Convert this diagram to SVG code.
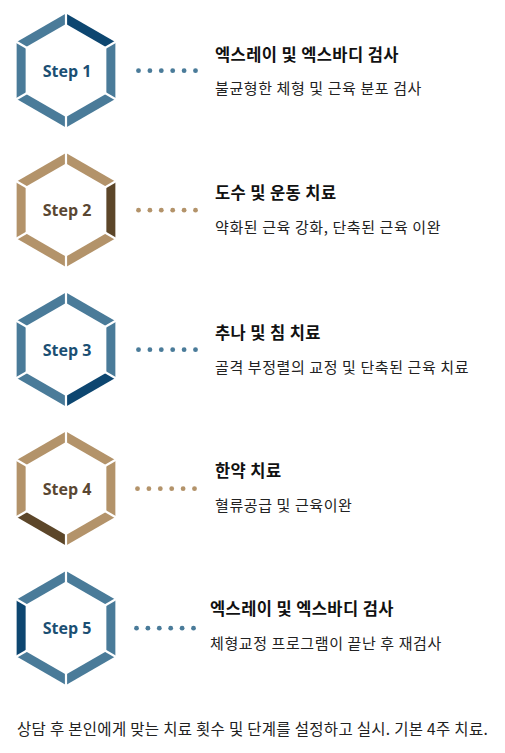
<svg xmlns="http://www.w3.org/2000/svg" xmlns:xlink="http://www.w3.org/1999/xlink" width="505" height="753" viewBox="0 0 505 753">
<style>
.b{fill:#4a7b99}.bd{fill:#0d4670}.t{fill:#b3936a}.td{fill:#5c4629}
.gap{stroke:#fff;stroke-width:2.2}
.stepb{font-family:"Open Sans","Noto Sans",sans-serif;font-weight:bold;font-size:16px;fill:#1b4f73;text-anchor:middle}
.stept{font-family:"Open Sans","Noto Sans",sans-serif;font-weight:bold;font-size:16px;fill:#5a4732;text-anchor:middle}
.title{font-family:"Noto Sans CJK KR",sans-serif;font-weight:bold;font-size:16.5px;letter-spacing:0.4px;fill:#111}
.sub{font-family:"Noto Sans CJK KR",sans-serif;font-size:15px;letter-spacing:0.6px;fill:#222}
.note{font-family:"Noto Sans CJK KR",sans-serif;font-size:15.5px;letter-spacing:0.3px;fill:#222}
.dotb{fill:#4a7b99}.dott{fill:#b3936a}
</style>
<defs>
<polygon id="s0" points="0,-57 49.36,-28.5 40.36,-23.3 0,-46.6"/>
<polygon id="s1" points="49.36,-28.5 49.36,28.5 40.36,23.3 40.36,-23.3"/>
<polygon id="s2" points="49.36,28.5 0,57 0,46.6 40.36,23.3"/>
<polygon id="s3" points="0,57 -49.36,28.5 -40.36,23.3 0,46.6"/>
<polygon id="s4" points="-49.36,28.5 -49.36,-28.5 -40.36,-23.3 -40.36,23.3"/>
<polygon id="s5" points="-49.36,-28.5 0,-57 0,-46.6 -40.36,-23.3"/>
<g id="gaps" class="gap">
<line x1="0" y1="-59" x2="0" y2="-44"/>
<line x1="51" y1="-29.5" x2="38.5" y2="-22.2"/>
<line x1="51" y1="29.5" x2="38.5" y2="22.2"/>
<line x1="0" y1="59" x2="0" y2="44"/>
<line x1="-51" y1="29.5" x2="-38.5" y2="22.2"/>
<line x1="-51" y1="-29.5" x2="-38.5" y2="-22.2"/>
</g>
<g id="dots">
<circle cx="0" cy="0" r="2.4"/><circle cx="11.4" cy="0" r="2.4"/><circle cx="22.8" cy="0" r="2.4"/>
<circle cx="34.2" cy="0" r="2.4"/><circle cx="45.6" cy="0" r="2.4"/><circle cx="57" cy="0" r="2.4"/>
</g>
</defs>

<g id="connectors">
<use xlink:href="#dots" class="dotb" x="138.5" y="70.7"/>
<use xlink:href="#dots" class="dott" x="138.5" y="210.2"/>
<use xlink:href="#dots" class="dotb" x="138.5" y="349.7"/>
<use xlink:href="#dots" class="dott" x="137.5" y="488.7"/>
<use xlink:href="#dots" class="dotb" x="136.5" y="628.2"/>
</g>

<g id="step1" transform="translate(66,70.5)">
<use xlink:href="#s0" class="bd"/><use xlink:href="#s1" class="b"/><use xlink:href="#s2" class="b"/>
<use xlink:href="#s3" class="b"/><use xlink:href="#s4" class="b"/><use xlink:href="#s5" class="b"/>
<use xlink:href="#gaps"/>
<text class="stepb" x="1" y="6">Step 1</text>
</g>
<g id="step2" transform="translate(66,210)">
<use xlink:href="#s0" class="t"/><use xlink:href="#s1" class="td"/><use xlink:href="#s2" class="t"/>
<use xlink:href="#s3" class="t"/><use xlink:href="#s4" class="t"/><use xlink:href="#s5" class="t"/>
<use xlink:href="#gaps"/>
<text class="stept" x="1" y="6">Step 2</text>
</g>
<g id="step3" transform="translate(66,349.5)">
<use xlink:href="#s0" class="b"/><use xlink:href="#s1" class="b"/><use xlink:href="#s2" class="bd"/>
<use xlink:href="#s3" class="b"/><use xlink:href="#s4" class="b"/><use xlink:href="#s5" class="b"/>
<use xlink:href="#gaps"/>
<text class="stepb" x="1" y="6">Step 3</text>
</g>
<g id="step4" transform="translate(66,488.5)">
<use xlink:href="#s0" class="t"/><use xlink:href="#s1" class="t"/><use xlink:href="#s2" class="t"/>
<use xlink:href="#s3" class="td"/><use xlink:href="#s4" class="t"/><use xlink:href="#s5" class="t"/>
<use xlink:href="#gaps"/>
<text class="stept" x="1" y="6">Step 4</text>
</g>
<g id="step5" transform="translate(66,628)">
<use xlink:href="#s0" class="b"/><use xlink:href="#s1" class="b"/><use xlink:href="#s2" class="b"/>
<use xlink:href="#s3" class="b"/><use xlink:href="#s4" class="bd"/><use xlink:href="#s5" class="b"/>
<use xlink:href="#gaps"/>
<text class="stepb" x="1" y="6">Step 5</text>
</g>

<g id="label1">
<text class="title" x="215" y="61">엑스레이 및 엑스바디 검사</text>
<text class="sub" x="215" y="94">불균형한 체형 및 근육 분포 검사</text>
</g>
<g id="label2">
<text class="title" x="215" y="199">도수 및 운동 치료</text>
<text class="sub" x="215" y="233">약화된 근육 강화, 단축된 근육 이완</text>
</g>
<g id="label3">
<text class="title" x="215" y="339">추나 및 침 치료</text>
<text class="sub" x="215" y="373">골격 부정렬의 교정 및 단축된 근육 치료</text>
</g>
<g id="label4">
<text class="title" x="215" y="477">한약 치료</text>
<text class="sub" x="215" y="511">혈류공급 및 근육이완</text>
</g>
<g id="label5">
<text class="title" x="210" y="615">엑스레이 및 엑스바디 검사</text>
<text class="sub" x="210" y="649">체형교정 프로그램이 끝난 후 재검사</text>
</g>
<g id="note">
<text class="note" x="17" y="735">상담 후 본인에게 맞는 치료 횟수 및 단계를 설정하고 실시. 기본 4주 치료.</text>
</g>
</svg>
